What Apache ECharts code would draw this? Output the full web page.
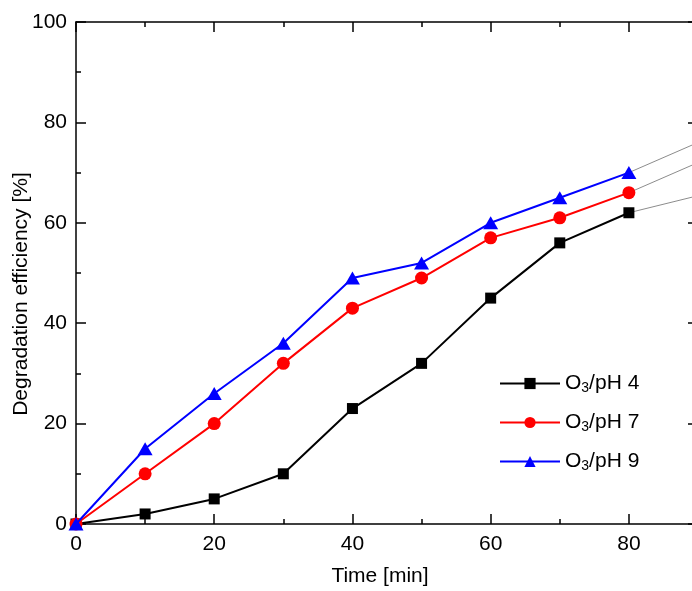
<!DOCTYPE html>
<html>
<head>
<meta charset="utf-8">
<script src="https://cdn.jsdelivr.net/npm/echarts@6/dist/echarts.min.js"></script>
<style>
  html, body { margin: 0; padding: 0; background: #fff; }
  #chart { width: 692px; height: 591px; }
</style>
</head>
<body>
<div id="chart"></div>
<script>
// data
const times = [0, 10, 20, 30, 40, 50, 60, 70, 80];
const ph4 = [0, 2, 5, 10, 23, 32, 45, 56, 62];
const ph7 = [0, 10, 20, 32, 43, 49, 57, 61, 66];
const ph9 = [0, 15, 26, 36, 49, 52, 60, 65, 70];
// thin grey guide lines leaving the frame on the right
const guideX = [80, 90];
const guide4 = [62, 65.4];
const guide7 = [66, 72];
const guide9 = [70, 76];

const FONT = "Liberation Sans";
const chart = echarts.init(document.getElementById("chart"));

function pairs(xs, ys) {
  return xs.map((x, i) => [x, ys[i]]);
}

// x axis that only draws ticks (used for the 10-min minor ticks)
function tickAxis(pos, interval, len) {
  return {
    type: "value",
    position: pos,
    min: 0,
    max: 90,
    interval: interval,
    axisLine: { show: false, onZero: false },
    axisTick: { show: true, inside: true, length: len, lineStyle: { color: "#000", width: 1.5 } },
    axisLabel: { show: false },
    splitLine: { show: false },
  };
}

function yAxisBase(pos) {
  return {
    type: "value",
    position: pos,
    min: 0,
    max: 100,
    interval: 20,
    axisLine: { onZero: false, lineStyle: { color: "#000", width: 1.5 } },
    axisTick: { inside: true, length: 10, lineStyle: { color: "#000", width: 1.5 } },
    minorTick: { show: true, splitNumber: 2, length: 5, lineStyle: { color: "#000", width: 1.5 } },
    axisLabel: { show: false },
    splitLine: { show: false },
  };
}

const legendName = (name) => "{n|O}{s|3}{n|" + name.slice(2) + "}";

const yLeft = yAxisBase("left");
yLeft.name = "Degradation efficiency [%]";
yLeft.nameLocation = "middle";
yLeft.nameGap = 44;
yLeft.nameMoveOverlap = false;
yLeft.nameTextStyle = { fontFamily: FONT, fontSize: 21, color: "#000", padding: [0, 42, 0, 0] };
yLeft.axisLabel = { fontFamily: FONT, fontSize: 21, color: "#000", margin: 9 };

const option = {
  animation: false,
  backgroundColor: "#fff",
  grid: { left: 76, right: -6, top: 22, bottom: 67, containLabel: false, outerBoundsMode: "none" },
  legend: {
    orient: "vertical",
    left: 499,
    top: 372,
    padding: 0,
    itemWidth: 60,
    itemHeight: 14,
    itemGap: 16,
    data: ["O3/pH 4", "O3/pH 7", "O3/pH 9"],
    formatter: legendName,
    textStyle: {
      rich: {
        n: { fontFamily: FONT, fontSize: 21, color: "#000", lineHeight: 24 },
        s: { fontFamily: FONT, fontSize: 14, color: "#000", lineHeight: 24, padding: [9, 0, 0, 0] },
      },
    },
  },
  xAxis: [
    {
      type: "value",
      position: "bottom",
      min: 0,
      max: 90,
      interval: 20,
      name: "Time [min]",
      nameLocation: "middle",
      nameGap: 42,
      nameMoveOverlap: false,
      nameTextStyle: { fontFamily: FONT, fontSize: 21, color: "#000", padding: [0, 14, 0, 0] },
      axisLine: { onZero: false, lineStyle: { color: "#000", width: 1.5 } },
      axisTick: { inside: true, length: 10, lineStyle: { color: "#000", width: 1.5 } },
      axisLabel: { fontFamily: FONT, fontSize: 21, color: "#000", margin: 10, showMaxLabel: false },
      splitLine: { show: false },
    },
    tickAxis("bottom", 10, 5),
    {
      type: "value",
      position: "top",
      min: 0,
      max: 90,
      interval: 20,
      axisLine: { onZero: false, lineStyle: { color: "#000", width: 1.5 } },
      axisTick: { inside: true, length: 10, lineStyle: { color: "#000", width: 1.5 } },
      axisLabel: { show: false },
      splitLine: { show: false },
    },
    tickAxis("top", 10, 5),
  ],
  yAxis: [yLeft, yAxisBase("right")],
  series: [
    {
      name: "guide4", type: "line", data: pairs(guideX, guide4), symbol: "none",
      lineStyle: { color: "#8c8c8c", width: 1 }, silent: true, clip: false, z: 1,
    },
    {
      name: "guide7", type: "line", data: pairs(guideX, guide7), symbol: "none",
      lineStyle: { color: "#8c8c8c", width: 1 }, silent: true, clip: false, z: 1,
    },
    {
      name: "guide9", type: "line", data: pairs(guideX, guide9), symbol: "none",
      lineStyle: { color: "#8c8c8c", width: 1 }, silent: true, clip: false, z: 1,
    },
    {
      name: "O3/pH 4", type: "line", data: pairs(times, ph4),
      symbol: "rect", symbolSize: 11, color: "#000",
      lineStyle: { color: "#000", width: 2 }, itemStyle: { color: "#000" }, z: 3,
    },
    {
      name: "O3/pH 7", type: "line", data: pairs(times, ph7),
      symbol: "circle", symbolSize: 13, color: "#ff0000",
      lineStyle: { color: "#ff0000", width: 2 }, itemStyle: { color: "#ff0000" }, z: 4,
    },
    {
      name: "O3/pH 9", type: "line", data: pairs(times, ph9),
      symbol: "triangle", symbolSize: [15, 13], color: "#0000ff",
      lineStyle: { color: "#0000ff", width: 2 }, itemStyle: { color: "#0000ff" }, z: 5,
    },
  ],
};

chart.setOption(option);
</script>
</body>
</html>
